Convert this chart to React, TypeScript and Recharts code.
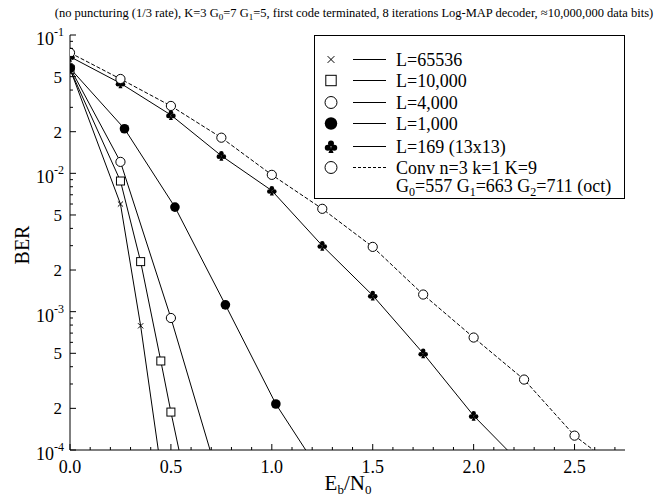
import React from 'react';
import { LineChart, Line, XAxis, YAxis } from 'recharts';

const FONT = '"Liberation Serif", "DejaVu Serif", serif';

const l65536X = [0, 0.25, 0.35];
const l65536Ber = [0.057, 0.006, 0.00079];
const l65536Exit = 0.4375;

const l10000X = [0, 0.25, 0.35, 0.45, 0.5];
const l10000Ber = [0.0565, 0.0088, 0.0023, 0.00044, 0.000188];
const l10000Exit = 0.54;

const l4000X = [0, 0.25, 0.5];
const l4000Ber = [0.058, 0.0121, 0.0009];
const l4000Exit = 0.694;

const l1000X = [0, 0.27, 0.52, 0.77, 1.02];
const l1000Ber = [0.0575, 0.021, 0.0057, 0.00112, 0.000215];
const l1000Exit = 1.168;

const l169X = [0, 0.25, 0.5, 0.75, 1.0, 1.25, 1.5, 1.75, 2.0];
const l169Ber = [0.0697, 0.0448, 0.0264, 0.0134, 0.0075, 0.003, 0.00131, 0.0005, 0.000177];
const l169Exit = 2.167;

const convX = [0, 0.25, 0.5, 0.75, 1.0, 1.25, 1.5, 1.75, 2.0, 2.25, 2.5];
const convBer = [0.0744, 0.0481, 0.0307, 0.0181, 0.00975, 0.00554, 0.00294, 0.00133, 0.00065, 0.000323, 0.000127];
const convExit = 2.593;

const xLabels = [0, 0.5, 1.0, 1.5, 2.0, 2.5];
const yLabels = [1e-4, 2e-4, 5e-4, 1e-3, 2e-3, 5e-3, 1e-2, 2e-2, 5e-2, 1e-1];

const BER_FLOOR = 1e-4;

const toPoints = (xs: number[], bers: number[], exit: number) => [
  ...xs.map((x, i) => ({ x, ber: bers[i] })),
  { x: exit, ber: BER_FLOOR, edge: true },
];

// minor ticks: every 0.1 on x, 1..9 per decade on y
const xTicks: number[] = [];
for (let i = 0; i <= 27; i++) xTicks.push(i / 10);
const yTicks: number[] = [];
for (let e = -4; e < -1; e++) for (let m = 1; m <= 9; m++) yTicks.push(Number((m * 10 ** e).toPrecision(3)));
yTicks.push(0.1);

const isMajorX = (v: number) => xLabels.some((t) => Math.abs(t - v) < 1e-9);
const isMajorY = (v: number) => yLabels.some((t) => Math.abs(t - v) / t < 1e-6);

type Shape = 'cross' | 'square' | 'open' | 'filled' | 'club';

function Marker({ shape, cx, cy, s = 1 }: { shape: Shape; cx: number; cy: number; s?: number }) {
  if (shape === 'cross') {
    const d = 2.6 * s;
    return (
      <g stroke="#000" strokeWidth={1}>
        <line x1={cx - d} y1={cy - d} x2={cx + d} y2={cy + d} />
        <line x1={cx - d} y1={cy + d} x2={cx + d} y2={cy - d} />
      </g>
    );
  }
  if (shape === 'square') {
    const h = 4 * s;
    return <rect x={cx - h} y={cy - h} width={2 * h} height={2 * h} fill="#fff" stroke="#000" />;
  }
  if (shape === 'open') return <circle cx={cx} cy={cy} r={4.6 * s} fill="#fff" stroke="#000" />;
  if (shape === 'filled') return <circle cx={cx} cy={cy} r={4.8 * s} fill="#000" />;
  return (
    <g fill="#000">
      <circle cx={cx} cy={cy - 2.4 * s} r={2.3 * s} />
      <circle cx={cx - 2.5 * s} cy={cy + 0.9 * s} r={2.3 * s} />
      <circle cx={cx + 2.5 * s} cy={cy + 0.9 * s} r={2.3 * s} />
      <path d={`M${cx} ${cy} L${cx - 2 * s} ${cy + 5 * s} L${cx + 2 * s} ${cy + 5 * s} Z`} />
    </g>
  );
}

const dotFor = (shape: Shape) => (p: any) => {
  if (p.payload?.edge || p.cx == null) return <g key={p.index} />;
  return (
    <g key={p.index}>
      <Marker shape={shape} cx={p.cx} cy={p.cy} />
    </g>
  );
};

const BottomTick = ({ x, y, payload }: any) => {
  const major = isMajorX(payload.value);
  return (
    <g>
      <line x1={x} y1={y} x2={x} y2={y - (major ? 6 : 3)} stroke="#000" />
      {major && (
        <text x={x} y={y + 23} textAnchor="middle" fontSize={18} fontFamily={FONT} fill="#000">
          {payload.value.toFixed(1)}
        </text>
      )}
    </g>
  );
};

const TopTick = ({ x, y, payload }: any) => {
  const major = isMajorX(payload.value);
  return <line x1={x} y1={y} x2={x} y2={y + (major ? 6 : 3)} stroke="#000" />;
};

const LeftTick = ({ x, y, payload }: any) => {
  const v = payload.value as number;
  const major = isMajorY(v);
  const exp = Math.round(Math.log10(v));
  const decade = Math.abs(v - 10 ** exp) / v < 1e-6;
  return (
    <g>
      <line x1={x} y1={y} x2={x + (major ? 6 : 3)} y2={y} stroke="#000" />
      {major && decade && (
        <text x={x - 6} y={y + 10} textAnchor="end" fontSize={18} fontFamily={FONT} fill="#000">
          10
          <tspan dy={-9} fontSize={12}>
            {`-${-exp}`}
          </tspan>
        </text>
      )}
      {major && !decade && (
        <text x={x - 8} y={y + 6} textAnchor="end" fontSize={17} fontFamily={FONT} fill="#000">
          {Math.round(v / 10 ** Math.floor(Math.log10(v)))}
        </text>
      )}
    </g>
  );
};

const RightTick = ({ x, y, payload }: any) => {
  const major = isMajorY(payload.value);
  return <line x1={x} y1={y} x2={x - (major ? 6 : 3)} y2={y} stroke="#000" />;
};

const series: { name: string; shape: Shape; dashed?: boolean; data: any[] }[] = [
  { name: 'L=65536', shape: 'cross', data: toPoints(l65536X, l65536Ber, l65536Exit) },
  { name: 'L=10,000', shape: 'square', data: toPoints(l10000X, l10000Ber, l10000Exit) },
  { name: 'L=4,000', shape: 'open', data: toPoints(l4000X, l4000Ber, l4000Exit) },
  { name: 'L=1,000', shape: 'filled', data: toPoints(l1000X, l1000Ber, l1000Exit) },
  { name: 'L=169 (13x13)', shape: 'club', data: toPoints(l169X, l169Ber, l169Exit) },
  { name: 'Conv n=3 k=1 K=9', shape: 'open', dashed: true, data: toPoints(convX, convBer, convExit) },
];

function LegendBox() {
  const rows = [24.5, 45.5, 67.5, 88.5, 111.5, 132.5];
  return (
    <g transform="translate(314,35)">
      <rect x={0.5} y={0.5} width={310} height={163} fill="#fff" stroke="#000" />
      {series.map((s, i) => (
        <g key={s.name}>
          <Marker shape={s.shape} cx={17} cy={rows[i]} s={1.3} />
          <line
            x1={39}
            y1={rows[i]}
            x2={72}
            y2={rows[i]}
            stroke="#000"
            strokeDasharray={s.dashed ? '3 2' : undefined}
          />
          <text x={82} y={rows[i] + 6} fontSize={18} fontFamily={FONT}>
            {s.name}
          </text>
        </g>
      ))}
      <text x={82} y={157} fontSize={18} fontFamily={FONT}>
        G<tspan dy={4} fontSize={12}>0</tspan>
        <tspan dy={-4}>=557 G</tspan>
        <tspan dy={4} fontSize={12}>1</tspan>
        <tspan dy={-4}>=663 G</tspan>
        <tspan dy={4} fontSize={12}>2</tspan>
        <tspan dy={-4}>=711 (oct)</tspan>
      </text>
    </g>
  );
}

export default function App() {
  return (
    <div style={{ position: 'absolute', left: 0, top: 0, width: 671, height: 498, background: '#fff' }}>
      <LineChart width={671} height={498} margin={{ top: 35, right: 46, bottom: 0, left: 0 }}>
        <XAxis
          xAxisId="b"
          type="number"
          dataKey="x"
          domain={[0, 2.75]}
          ticks={xTicks}
          interval={0}
          allowDataOverflow
          height={48}
          tickSize={0}
          tickMargin={0}
          tickLine={false}
          axisLine={{ stroke: '#000' }}
          tick={(p: any) => <BottomTick {...p} />}
        />
        <XAxis
          xAxisId="t"
          orientation="top"
          type="number"
          dataKey="x"
          domain={[0, 2.75]}
          ticks={xTicks}
          interval={0}
          allowDataOverflow
          height={0}
          tickSize={0}
          tickMargin={0}
          tickLine={false}
          axisLine={{ stroke: '#000' }}
          tick={(p: any) => <TopTick {...p} />}
        />
        <YAxis
          yAxisId="l"
          type="number"
          scale="log"
          domain={[BER_FLOOR, 0.1]}
          ticks={yTicks}
          interval={0}
          allowDataOverflow
          width={70}
          tickSize={0}
          tickMargin={0}
          tickLine={false}
          axisLine={{ stroke: '#000' }}
          tick={(p: any) => <LeftTick {...p} />}
        />
        <YAxis
          yAxisId="r"
          orientation="right"
          type="number"
          scale="log"
          domain={[BER_FLOOR, 0.1]}
          ticks={yTicks}
          interval={0}
          allowDataOverflow
          width={0}
          tickSize={0}
          tickMargin={0}
          tickLine={false}
          axisLine={{ stroke: '#000' }}
          tick={(p: any) => <RightTick {...p} />}
        />
        {series.map((s) => (
          <Line
            key={s.name}
            xAxisId="b"
            yAxisId="l"
            data={s.data}
            dataKey="ber"
            type="linear"
            stroke="#000"
            strokeWidth={1}
            strokeDasharray={s.dashed ? '4 2' : undefined}
            dot={dotFor(s.shape)}
            activeDot={false}
            isAnimationActive={false}
          />
        ))}
      </LineChart>
      <svg
        width={671}
        height={498}
        style={{ position: 'absolute', left: 0, top: 0, pointerEvents: 'none' }}
      >
        <text x={354} y={17} textAnchor="middle" fontSize={12.5} fontFamily={FONT}>
          (no puncturing (1/3 rate), K=3 G<tspan dy={3} fontSize={9}>0</tspan>
          <tspan dy={-3}>=7 G</tspan>
          <tspan dy={3} fontSize={9}>1</tspan>
          <tspan dy={-3}>=5, first code terminated, 8 iterations Log-MAP decoder, ≈10,000,000 data bits)</tspan>
        </text>
        <text x={29} y={245} textAnchor="middle" fontSize={20} fontFamily={FONT} transform="rotate(-90 29 245)">
          BER
        </text>
        <text x={348} y={490} textAnchor="middle" fontSize={21} fontFamily={FONT}>
          E<tspan dy={4} fontSize={13}>b</tspan>
          <tspan dy={-4}>/N</tspan>
          <tspan dy={4} fontSize={13}>0</tspan>
        </text>
        <LegendBox />
      </svg>
    </div>
  );
}
